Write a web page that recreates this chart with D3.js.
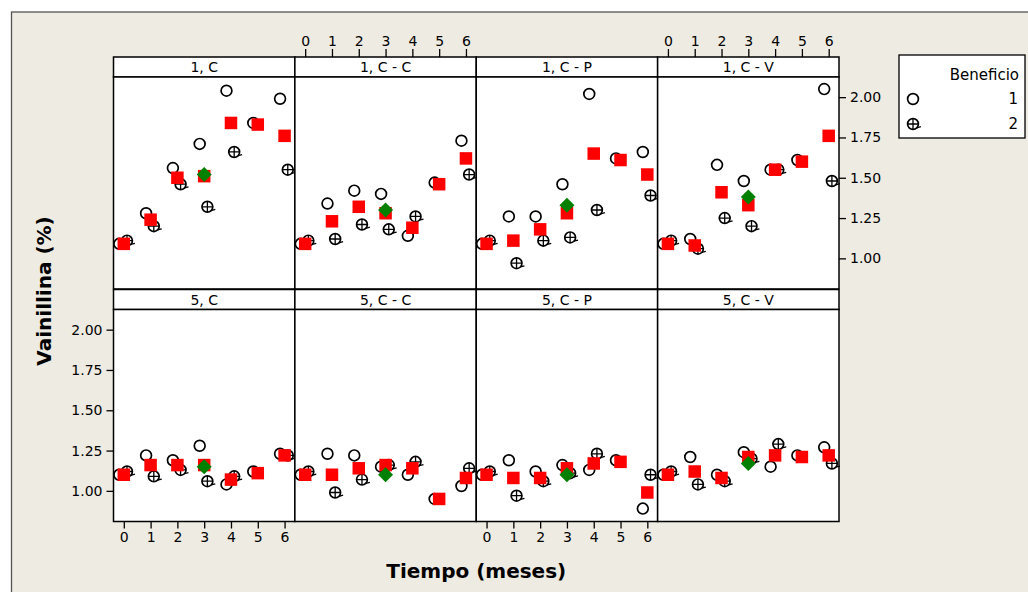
<!DOCTYPE html>
<html>
<head>
<meta charset="utf-8">
<script src="https://cdn.jsdelivr.net/npm/d3@7"></script>
<style>
  html, body { margin: 0; padding: 0; background: #ffffff; }
  svg { display: block; }
  text { font-family: "DejaVu Sans", Verdana, sans-serif; fill: #000; }
</style>
</head>
<body>
<svg id="chart" width="1028" height="592"></svg>
<script>
// ---------------- DATA ----------------
const panelLabels = ["1, C", "1, C - C", "1, C - P", "1, C - V",
                     "5, C", "5, C - C", "5, C - P", "5, C - V"];
const times = [0, 1, 2, 3, 4, 5, 6];
const xTickLabels = ["0", "1", "2", "3", "4", "5", "6"];
const yTickValues = [1.00, 1.25, 1.50, 1.75, 2.00];
const legendTitle = "Beneficio";
const legendLabels = ["1", "2"];

// Beneficio 1 (open circle)
const beneficio1 = [
  [1.09, 1.28, 1.56, 1.71, 2.04, 1.84, 1.99],
  [1.09, 1.34, 1.42, 1.40, 1.14, 1.47, 1.73],
  [1.09, 1.26, 1.26, 1.46, 2.02, 1.62, 1.66],
  [1.09, 1.12, 1.58, 1.48, 1.55, 1.61, 2.05],
  [1.10, 1.22, 1.19, 1.28, 1.04, 1.12, 1.23],
  [1.10, 1.23, 1.22, 1.15, 1.10, 0.95, 1.03],
  [1.10, 1.19, 1.12, 1.16, 1.13, 1.19, 0.89],
  [1.10, 1.21, 1.10, 1.24, 1.15, 1.22, 1.27]
];
// Beneficio 2 (crossed circle); null = not observed
const beneficio2 = [
  [1.11, 1.20, 1.46, 1.32, 1.66, null, 1.55],
  [1.11, 1.12, 1.21, 1.18, 1.26, null, 1.52],
  [1.11, 0.97, 1.11, 1.13, 1.30, null, 1.39],
  [1.11, 1.06, 1.25, 1.20, 1.55, null, 1.48],
  [1.12, 1.09, 1.13, 1.06, 1.09, null, 1.22],
  [1.12, 0.99, 1.07, 1.16, 1.18, null, 1.14],
  [1.12, 0.97, 1.06, 1.11, 1.23, null, 1.10],
  [1.12, 1.04, 1.06, 1.20, 1.29, null, 1.17]
];
// Mean (red square)
const meanValues = [
  [1.09, 1.24, 1.50, 1.51, 1.84, 1.83, 1.76],
  [1.09, 1.23, 1.32, 1.28, 1.19, 1.46, 1.62],
  [1.09, 1.11, 1.18, 1.28, 1.65, 1.61, 1.52],
  [1.09, 1.08, 1.41, 1.33, 1.55, 1.60, 1.76],
  [1.10, 1.16, 1.16, 1.16, 1.07, 1.11, 1.22],
  [1.10, 1.10, 1.14, 1.16, 1.14, 0.95, 1.08],
  [1.10, 1.08, 1.08, 1.14, 1.17, 1.18, 0.99],
  [1.10, 1.12, 1.08, 1.21, 1.22, 1.21, 1.22]
];
// Green diamond (only at month 3)
const diamondTime = [3];
const diamondValues = [1.52, 1.30, 1.33, 1.38, 1.15, 1.10, 1.10, 1.17];

// ---------------- LAYOUT ----------------
const svg = d3.select("#chart");
const W = 1028, H = 592;
const bg = "#eeebe2";
const gridLeft = 113.5, gridRight = 839;
const colW = (gridRight - gridLeft) / 4;
const stripH = 20, panelH = 212;
const rowTop = [57, 289.5];
const xPad = 10.3;

// outer frame
svg.append("rect").attr("x", 0).attr("y", 0).attr("width", W).attr("height", H).attr("fill", "#fff");
svg.append("rect").attr("x", 11.5).attr("y", 12).attr("width", W + 10).attr("height", H + 10)
  .attr("fill", bg).attr("stroke", "#555").attr("stroke-width", 1.3);

const y = d3.scaleLinear().domain([0.81, 2.125]);

function drawCrossCircle(g, cx, cy, r) {
  g.append("circle").attr("cx", cx).attr("cy", cy).attr("r", r)
    .attr("fill", "none").attr("stroke", "#000").attr("stroke-width", 1.7);
  g.append("path").attr("d", `M${cx - r},${cy}H${cx + r}M${cx},${cy - r}V${cy + r}`)
    .attr("stroke", "#000").attr("stroke-width", 1.3);
  g.append("path").attr("d", `M${cx + r * 0.7},${cy + r * 0.7}L${cx + r + 2.5},${cy + r * 0.5}`)
    .attr("stroke", "#000").attr("stroke-width", 1.3).attr("fill", "none");
}

const circleDx = -4.5, crossDx = 3.2;
const sqSize = 12.5, diaR = 7.5, circR = 5.4;

panelLabels.forEach((lab, i) => {
  const row = Math.floor(i / 4), col = i % 4;
  const x0 = gridLeft + col * colW, x1 = x0 + colW;
  const sTop = rowTop[row], pTop = sTop + stripH, pBot = pTop + panelH;
  const x = d3.scaleLinear().domain([0, 6]).range([x0 + xPad, x1 - xPad]);
  const yy = y.copy().range([pBot, pTop]);
  const g = svg.append("g");

  // strip
  g.append("rect").attr("x", x0).attr("y", sTop).attr("width", colW).attr("height", stripH)
    .attr("fill", "#fff").attr("stroke", "#000").attr("stroke-width", 1.5);
  g.append("text").attr("x", (x0 + x1) / 2).attr("y", sTop + stripH / 2 + 5)
    .attr("text-anchor", "middle").attr("font-size", 14).text(lab);
  // panel
  g.append("rect").attr("x", x0).attr("y", pTop).attr("width", colW).attr("height", panelH)
    .attr("fill", "#fff").attr("stroke", "#000").attr("stroke-width", 1.5);

  // x axes: top for row 0 cols 1,3; bottom for row 1 cols 0,2
  if (row === 0 && (col === 1 || col === 3)) {
    const ax = g.append("g").attr("transform", `translate(0,${sTop})`)
      .call(d3.axisTop(x).tickValues(times).tickFormat((d, k) => xTickLabels[k]).tickSize(8).tickPadding(3));
    ax.select(".domain").remove();
    ax.selectAll("line").attr("stroke", "#000").attr("stroke-width", 1.3);
    ax.selectAll("text").attr("font-size", 14).attr("font-family", "DejaVu Sans");
  }
  if (row === 1 && (col === 0 || col === 2)) {
    const ax = g.append("g").attr("transform", `translate(0,${pBot})`)
      .call(d3.axisBottom(x).tickValues(times).tickFormat((d, k) => xTickLabels[k]).tickSize(7).tickPadding(4));
    ax.select(".domain").remove();
    ax.selectAll("line").attr("stroke", "#000").attr("stroke-width", 1.3);
    ax.selectAll("text").attr("font-size", 14).attr("font-family", "DejaVu Sans");
  }
  // y axes: right of top-right panel, left of bottom-left panel
  if (row === 0 && col === 3) {
    const ax = g.append("g").attr("transform", `translate(${x1},0)`)
      .call(d3.axisRight(yy).tickValues(yTickValues).tickFormat(d3.format(".2f")).tickSize(7).tickPadding(4));
    ax.select(".domain").remove();
    ax.selectAll("line").attr("stroke", "#000").attr("stroke-width", 1.3);
    ax.selectAll("text").attr("font-size", 14).attr("font-family", "DejaVu Sans");
  }
  if (row === 1 && col === 0) {
    const ax = g.append("g").attr("transform", `translate(${x0},0)`)
      .call(d3.axisLeft(yy).tickValues(yTickValues).tickFormat(d3.format(".2f")).tickSize(7).tickPadding(4));
    ax.select(".domain").remove();
    ax.selectAll("line").attr("stroke", "#000").attr("stroke-width", 1.3);
    ax.selectAll("text").attr("font-size", 14).attr("font-family", "DejaVu Sans");
  }

  // points
  times.forEach((t, k) => {
    const v1 = beneficio1[i][k];
    if (v1 != null) {
      g.append("circle").attr("cx", x(t) + circleDx).attr("cy", yy(v1)).attr("r", circR)
        .attr("fill", "none").attr("stroke", "#000").attr("stroke-width", 1.7);
    }
  });
  times.forEach((t, k) => {
    const v2 = beneficio2[i][k];
    if (v2 != null) drawCrossCircle(g, x(t) + crossDx, yy(v2), circR);
  });
  times.forEach((t, k) => {
    const m = meanValues[i][k];
    g.append("rect").attr("x", x(t) - sqSize / 2).attr("y", yy(m) - sqSize / 2)
      .attr("width", sqSize).attr("height", sqSize).attr("fill", "#ff0000");
  });
  diamondTime.forEach(t => {
    const cx = x(t), cy = yy(diamondValues[i]);
    g.append("path").attr("d", `M${cx},${cy - diaR}L${cx + diaR},${cy}L${cx},${cy + diaR}L${cx - diaR},${cy}Z`)
      .attr("fill", "#008000");
  });
});

// axis titles
svg.append("text").attr("x", (gridLeft + gridRight) / 2).attr("y", 578)
  .attr("text-anchor", "middle").attr("font-size", 20).attr("font-weight", "bold")
  .text("Tiempo (meses)");
svg.append("text").attr("transform", `translate(51,${291}) rotate(-90)`)
  .attr("text-anchor", "middle").attr("font-size", 20).attr("font-weight", "bold")
  .text("Vainillina (%)");

// legend
const lg = svg.append("g");
lg.append("rect").attr("x", 899).attr("y", 55).attr("width", 126).attr("height", 83)
  .attr("fill", "#fff").attr("stroke", "#000").attr("stroke-width", 1.3);
lg.append("text").attr("x", 1019).attr("y", 80).attr("text-anchor", "end").attr("font-size", 15).text(legendTitle);
lg.append("circle").attr("cx", 913).attr("cy", 99).attr("r", circR)
  .attr("fill", "none").attr("stroke", "#000").attr("stroke-width", 1.7);
drawCrossCircle(lg, 913, 124, circR);
lg.append("text").attr("x", 1018).attr("y", 104).attr("text-anchor", "end").attr("font-size", 15).text(legendLabels[0]);
lg.append("text").attr("x", 1018).attr("y", 129).attr("text-anchor", "end").attr("font-size", 15).text(legendLabels[1]);
</script>
</body>
</html>
